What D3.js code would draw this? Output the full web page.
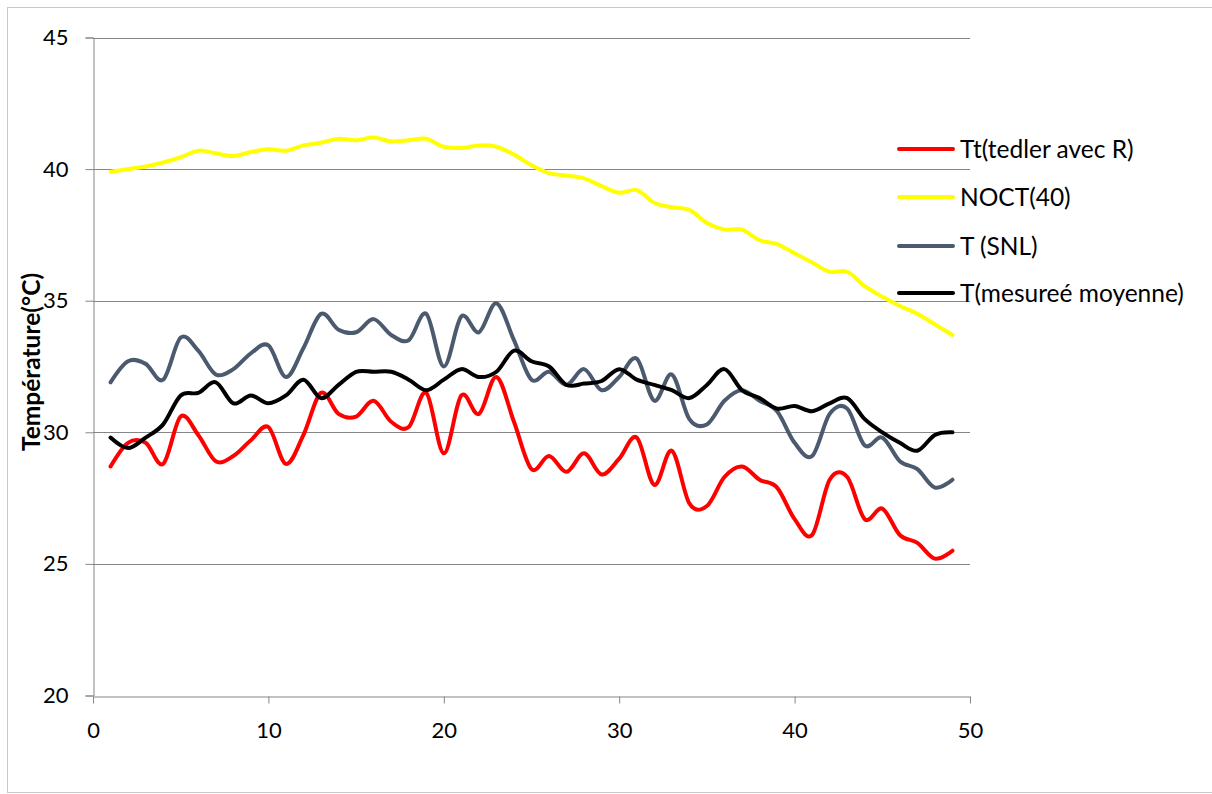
<!DOCTYPE html>
<html>
<head>
<meta charset="utf-8">
<script src="https://cdn.jsdelivr.net/npm/d3@7"></script>
<style>
  html, body { margin: 0; padding: 0; background: #fff; }
  svg { display: block; }
  text { font-family: Lato, "Open Sans", sans-serif; }
</style>
</head>
<body>
<svg id="chart" width="1212" height="794"></svg>
<script>
// ---- data ----
const xValues = d3.range(1, 50);
const seriesNames = ["Tt(tedler avec R)", "NOCT(40)", "T (SNL)", "T(mesureé moyenne)"];
const seriesColors = ["#ff0000", "#ffff00", "#4b5a6e", "#000000"];
const ttTedler = [28.7, 29.6, 29.6, 28.8, 30.6, 29.9, 28.9, 29.1, 29.7, 30.2,
                  28.8, 29.9, 31.5, 30.7, 30.6, 31.2, 30.4, 30.2, 31.5, 29.2,
                  31.4, 30.7, 32.1, 30.4, 28.6, 29.1, 28.5, 29.2, 28.4, 29.0,
                  29.8, 28.0, 29.3, 27.3, 27.2, 28.3, 28.7, 28.2, 27.9, 26.7,
                  26.1, 28.2, 28.3, 26.7, 27.1, 26.1, 25.8, 25.2, 25.5];
const noct40 = [39.9, 40.0, 40.1, 40.25, 40.45, 40.7, 40.6, 40.5, 40.65, 40.75,
                40.7, 40.9, 41.0, 41.15, 41.1, 41.2, 41.05, 41.1, 41.15, 40.85,
                40.8, 40.9, 40.85, 40.55, 40.15, 39.85, 39.75, 39.65, 39.35, 39.1,
                39.2, 38.72, 38.55, 38.45, 37.95, 37.7, 37.7, 37.3, 37.15, 36.8,
                36.45, 36.1, 36.1, 35.55, 35.15, 34.8, 34.5, 34.1, 33.7];
const tSNL = [31.9, 32.7, 32.6, 32.0, 33.6, 33.1, 32.2, 32.4, 33.0, 33.3,
              32.1, 33.2, 34.5, 33.9, 33.8, 34.3, 33.7, 33.5, 34.5, 32.5,
              34.4, 33.8, 34.9, 33.5, 32.0, 32.3, 31.8, 32.4, 31.6, 32.1,
              32.8, 31.2, 32.2, 30.5, 30.3, 31.2, 31.6, 31.2, 30.8, 29.6,
              29.1, 30.7, 30.9, 29.5, 29.8, 28.9, 28.6, 27.9, 28.2];
const tMesure = [29.8, 29.4, 29.8, 30.3, 31.4, 31.5, 31.9, 31.1, 31.4, 31.1,
                 31.4, 32.0, 31.3, 31.8, 32.3, 32.3, 32.3, 32.0, 31.6, 32.0,
                 32.4, 32.1, 32.3, 33.1, 32.7, 32.5, 31.8, 31.85, 31.95, 32.4,
                 32.0, 31.8, 31.6, 31.3, 31.8, 32.4, 31.6, 31.3, 30.9, 31.0,
                 30.8, 31.1, 31.3, 30.5, 30.0, 29.6, 29.3, 29.9, 30.0];
const xTicks = [0, 10, 20, 30, 40, 50];
const yTicks = [20, 25, 30, 35, 40, 45];
const yTitle = "Température(°C)";

// ---- layout ----
const svg = d3.select("#chart");
const plot = { left: 93, right: 970, top: 37.5, bottom: 695.5 };

const x = d3.scaleLinear().domain([0, 50]).range([plot.left, plot.right]);
const y = d3.scaleLinear().domain([20, 45]).range([plot.bottom, plot.top]);

// chart area border
svg.append("rect")
  .attr("x", 7.5).attr("y", 7.5).attr("width", 1220).attr("height", 785)
  .attr("fill", "none").attr("stroke", "#c8c8c8").attr("stroke-width", 1);

// gridlines
svg.append("g").selectAll("line").data(yTicks.filter(d => d !== 20)).join("line")
  .attr("x1", plot.left).attr("x2", plot.right)
  .attr("y1", d => Math.round(y(d)) + 0.5).attr("y2", d => Math.round(y(d)) + 0.5)
  .attr("stroke", "#868686").attr("stroke-width", 1);

// y axis
const yAxis = svg.append("g")
  .attr("transform", `translate(${plot.left + 0.5},0)`)
  .call(d3.axisLeft(y).tickValues(yTicks).tickSize(8).tickPadding(17));
yAxis.select(".domain").attr("stroke", "#868686");
yAxis.selectAll(".tick line").attr("stroke", "#868686");
yAxis.selectAll(".tick text").attr("font-size", 22).attr("fill", "#000")
  .attr("font-family", "Lato, sans-serif");

// x axis
const xAxis = svg.append("g")
  .attr("transform", `translate(0,${Math.round(plot.bottom) + 0.5})`)
  .call(d3.axisBottom(x).tickValues(xTicks).tickSize(7).tickPadding(19).tickSizeOuter(0));
xAxis.select(".domain").attr("stroke", "#868686");
xAxis.selectAll(".tick line").attr("stroke", "#868686");
xAxis.selectAll(".tick text").attr("font-size", 22).attr("fill", "#000")
  .attr("font-family", "Lato, sans-serif");

// y title
svg.append("text")
  .attr("transform", `translate(39.5,362) rotate(-90)`)
  .attr("text-anchor", "middle")
  .attr("font-size", 24.5).attr("font-weight", "bold")
  .text(yTitle);

// lines
const allSeries = [ttTedler, noct40, tSNL, tMesure];
const line = d3.line()
  .x((d, i) => x(xValues[i]))
  .y(d => y(d))
  .curve(d3.curveCardinal.tension(0));

svg.append("g").selectAll("path").data(allSeries).join("path")
  .attr("d", d => line(d))
  .attr("fill", "none")
  .attr("stroke", (d, i) => seriesColors[i])
  .attr("stroke-width", 4)
  .attr("stroke-linejoin", "round")
  .attr("stroke-linecap", "round");

// legend
const legendY = [149, 197, 246, 293];
const legend = svg.append("g").selectAll("g").data(seriesNames).join("g")
  .attr("transform", (d, i) => `translate(899,${legendY[i]})`);
legend.append("line")
  .attr("x1", 0).attr("x2", 54).attr("y1", 0).attr("y2", 0)
  .attr("stroke", (d, i) => seriesColors[i]).attr("stroke-width", 4)
  .attr("stroke-linecap", "round");
legend.append("text")
  .attr("x", 61).attr("y", 0).attr("dy", "0.35em")
  .attr("font-size", 24.5).attr("fill", "#000")
  .text(d => d);
</script>
</body>
</html>
